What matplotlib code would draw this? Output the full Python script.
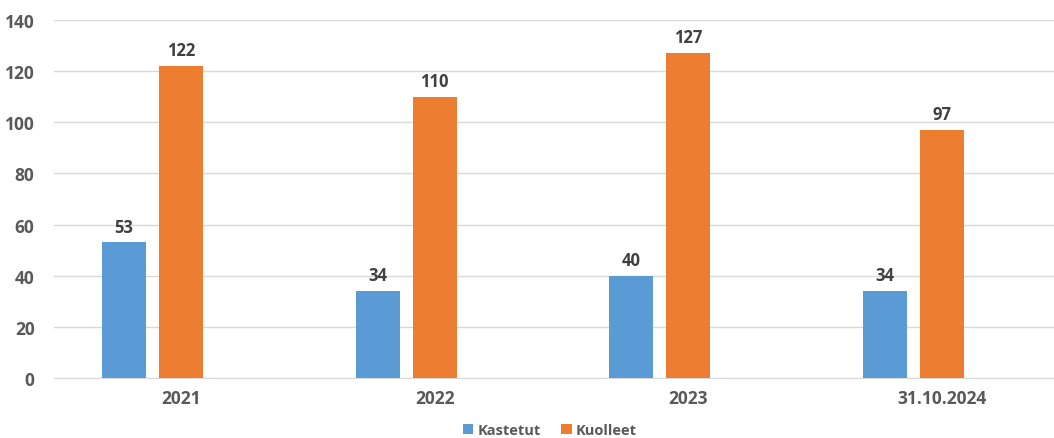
import matplotlib
matplotlib.use("Agg")
import matplotlib.pyplot as plt
import numpy as np

categories = ["2021", "2022", "2023", "31.10.2024"]
kastetut = [53, 34, 40, 34]
kuolleet = [122, 110, 127, 97]
series_names = ["Kastetut", "Kuolleet"]
colors = ["#5B9BD5", "#ED7D31"]
yticks = [0, 20, 40, 60, 80, 100, 120, 140]

plt.rcParams['font.family'] = ['Open Sans', 'DejaVu Sans']

W, H = 1054, 439
fig = plt.figure(figsize=(W/100, H/100), dpi=100)
left, right, top, bottom = 54, 1069, 21, 379
ax = fig.add_axes([left/W, (H-bottom)/H, (right-left)/W, (bottom-top)/H])

x = np.arange(len(categories))
bw = 44/253.7
off = 57/253.7
b1 = ax.bar(x - off, kastetut, bw, color=colors[0], label=series_names[0], zorder=3)
b2 = ax.bar(x, kuolleet, bw, color=colors[1], label=series_names[1], zorder=3)
for bars in (b1, b2):
    for r in bars:
        ax.annotate(f"{int(r.get_height())}", (r.get_x()+r.get_width()/2, r.get_height()),
                    xytext=(0, 5), textcoords="offset points", ha="center", va="bottom",
                    fontsize=12, fontweight="bold", color="#404040")

ax.set_xlim(-0.5, len(categories)-0.5)
ax.set_ylim(0, 140)
ax.set_yticks(yticks)
ax.set_xticks(x)
ax.set_xticklabels(categories)
ax.yaxis.grid(True, color="#D9D9D9", linewidth=1, zorder=0)
ax.set_axisbelow(True)
for s in ["top", "right", "left"]:
    ax.spines[s].set_visible(False)
ax.spines["bottom"].set_color("#D9D9D9")
ax.tick_params(axis="both", length=0, labelsize=12.5, colors="#595959")
for lbl in ax.get_xticklabels() + ax.get_yticklabels():
    lbl.set_fontweight("bold")
ax.tick_params(axis="x", pad=8)
ax.tick_params(axis="y", pad=14)

leg = fig.legend(loc="center", bbox_to_anchor=(550/W, 1-431/H), ncol=2, frameon=False,
                 handlelength=0.7, handleheight=0.7, handletextpad=0.3, columnspacing=1.4,
                 prop={"size": 10.5, "weight": "bold"})
for t in leg.get_texts():
    t.set_color("#595959")

fig.savefig("out.png", dpi=100)
